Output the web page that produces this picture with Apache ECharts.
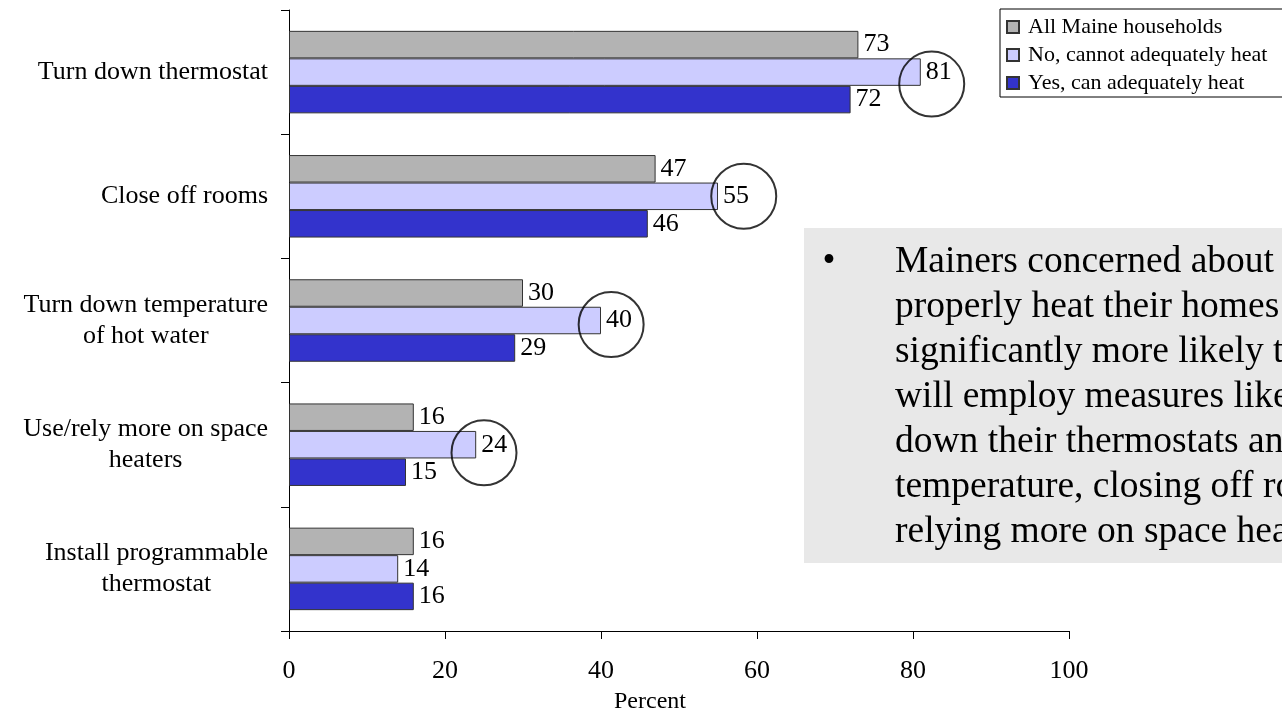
<!DOCTYPE html>
<html><head><meta charset="utf-8">
<script src="https://cdn.jsdelivr.net/npm/echarts@6/dist/echarts.min.js"></script>
<style>html,body{margin:0;padding:0;background:#fff}#c{width:1282px;height:714px}</style>
</head><body><div id="c"></div>
<script>
const categories = ['Turn down thermostat', 'Close off rooms', 'Turn down temperature\nof hot water', 'Use/rely more on space\nheaters', 'Install programmable\nthermostat'];
const seriesNames = ['All Maine households', 'No, cannot adequately heat', 'Yes, can adequately heat'];
const allMaine = [73, 47, 30, 16, 16];
const cannotHeat = [81, 55, 40, 24, 14];
const canHeat = [72, 46, 29, 15, 16];
const xTicks = [0, 20, 40, 60, 80, 100];
const xTitle = 'Percent';
// annotation circles drawn around the "cannot heat" labels: [value position, category index]
const circleCenters = [[82.4, 0], [58.3, 1], [41.3, 2], [25.0, 3]];
const noteLines = [
  'Mainers concerned about being able to',
  'properly heat their homes are',
  'significantly more likely to say they',
  'will employ measures like turning',
  'down their thermostats and water',
  'temperature, closing off rooms, and',
  'relying more on space heaters.'
];

const FONT = '"Liberation Serif", "Times New Roman", serif';
const colors = ['#b3b3b3', '#ccccff', '#3333cc'];
const circleDy = [12, 0, 4, 8];

function labelFmt(v) {
  const lines = v.split('\n');
  if (lines.length === 1) return v;
  return lines.map(l => '{c|' + l + '}').join('\n');
}

const chart = echarts.init(document.getElementById('c'), null, {renderer: 'canvas'});
const barData = [allMaine, cannotHeat, canHeat];
const series = barData.map((d, i) => ({
  name: seriesNames[i],
  type: 'bar',
  data: d,
  barWidth: 27.5,
  barGap: '0%',
  itemStyle: {color: colors[i], borderColor: '#333', borderWidth: 1},
  label: {show: true, position: 'right', distance: 5, color: '#000', fontFamily: FONT, fontSize: 26},
  emphasis: {disabled: true},
  animation: false
}));
series.push({
  type: 'scatter',
  data: circleCenters.map((c, i) => ({value: c, symbolOffset: [0, circleDy[i]]})),
  symbol: 'circle',
  symbolSize: 65,
  itemStyle: {color: 'rgba(0,0,0,0)', borderColor: '#000', borderWidth: 2},
  silent: true,
  z: 10,
  animation: false
});

chart.setOption({
  backgroundColor: '#fff',
  animation: false,
  grid: {left: 289, right: 213, top: 10, bottom: 83, containLabel: false, outerBoundsMode: 'none'},
  legend: {
    data: seriesNames,
    orient: 'vertical',
    left: 1000, top: 9,
    padding: [4, 20, 0, 6],
    itemGap: 0,
    itemWidth: 12, itemHeight: 12,
    icon: 'rect',
    borderColor: '#000', borderWidth: 1,
    backgroundColor: '#fff',
    textStyle: {fontFamily: FONT, fontSize: 22, color: '#000', lineHeight: 28, padding: [0, 0, 0, 4]},
    selectedMode: false
  },
  xAxis: {
    type: 'value', min: xTicks[0], max: xTicks[xTicks.length - 1], interval: xTicks[1] - xTicks[0],
    name: xTitle, nameLocation: 'middle', nameGap: 59,
    nameTextStyle: {fontFamily: FONT, fontSize: 24, color: '#000', padding: [0, 58, 0, 0]},
    axisLine: {show: true, lineStyle: {color: '#000', width: 1}},
    axisTick: {show: true, length: 8, lineStyle: {color: '#000'}},
    splitLine: {show: false},
    axisLabel: {fontFamily: FONT, fontSize: 26, color: '#000', margin: 27}
  },
  yAxis: {
    type: 'category', data: categories, inverse: true,
    axisLine: {show: true, lineStyle: {color: '#000', width: 1}},
    axisTick: {show: true, length: 8, lineStyle: {color: '#000'}},
    axisLabel: {
      fontFamily: FONT, fontSize: 26, color: '#000', margin: 21, lineHeight: 31,
      formatter: labelFmt,
      rich: {c: {align: 'center', fontFamily: FONT, fontSize: 26, color: '#000', lineHeight: 31}}
    }
  },
  graphic: [
    {type: 'rect', left: 804, top: 228, shape: {width: 520, height: 335}, style: {fill: '#e8e8e8'}, z: 1, silent: true},
    {type: 'text', x: 829, y: 262, style: {text: '•', font: '37px ' + FONT, fill: '#000', align: 'center', verticalAlign: 'middle'}, z: 2, silent: true},
    {type: 'text', x: 895, y: 239.5, style: {text: noteLines.join('\n'), font: '37.5px ' + FONT, fill: '#000', lineHeight: 45, align: 'left', verticalAlign: 'top'}, z: 2, silent: true}
  ],
  series: series
});
</script>
</body></html>
